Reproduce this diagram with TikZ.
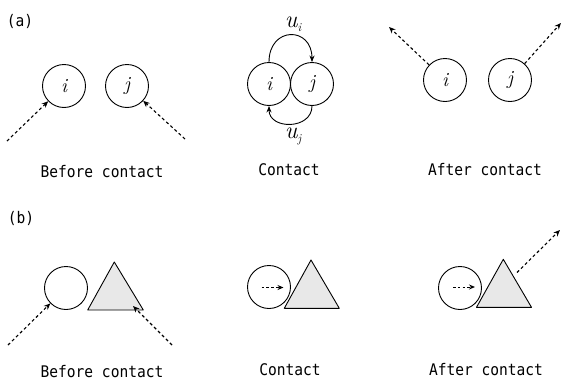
\documentclass[tikz,border=0pt]{standalone}
\usepackage{fontspec}
\newfontfamily\capfont[Scale=1]{DejaVu Sans Mono}
\usetikzlibrary{arrows.meta}
\tikzset{
  ball/.style={circle, draw, line width=0.9pt, minimum size=43pt, inner sep=0pt, font=\fontsize{20}{20}\selectfont\itshape},
  vel/.style={dashed, dash pattern=on 3pt off 2.6pt, line width=1.1pt, -{Stealth[length=6.5pt,width=5.5pt]}},
  inner/.style={dashed, dash pattern=on 2.6pt off 2.2pt, line width=1pt, -{Stealth[length=6pt,width=5pt]}},
  rot/.style={line width=0.9pt, -{Stealth[length=6.5pt,width=5pt]}},
  captext/.style={font=\capfont\fontsize{16}{16}\selectfont, xscale=0.91, inner sep=0pt},
  tri/.style={draw, line width=0.9pt, fill=gray!18, line join=round},
  ulab/.style={font=\fontsize{24}{24}\selectfont\itshape, inner sep=0pt}
}
\newcommand{\usub}[1]{u\hbox{\fontsize{12}{12}\selectfont\raisebox{-4pt}{#1}}}
\begin{document}
\begin{tikzpicture}[x=1pt, y=-1pt]
\useasboundingbox (0,0) rectangle (566,386);
% ---------------- (a)
\node[captext] (la) at (20,21) {(a)};
% before
\node[ball] (bi) at (64,86) {i};
\node[ball] (bj) at (127,86) {j};
\coordinate (bis) at (7,141);
\coordinate (bjs) at (185,139);
\draw[vel] (bis) -- (bi);
\draw[vel] (bjs) -- (bj);
\node[captext] (t1) at (102,172) {Before contact};
% contact
\node[ball] (ci) at (269,84) {i};
\node[ball] (cj) at (312,84) {j};
\draw[rot] (ci.north) .. controls +(0,-36) and +(0,-36) .. (cj.north);
\draw[rot] (cj.south) .. controls +(0,24) and +(0,24) .. (ci.south);
\node[ulab] (ui) at (293,24) {\usub{i}};
\node[ulab] (uj) at (293,136) {\usub{j}};
\node[captext] (t2) at (289,170) {Contact};
% after
\node[ball] (ai) at (445,80) {i};
\node[ball] (aj) at (510,80) {j};
\coordinate (aie) at (389,27);
\coordinate (aje) at (561,23);
\draw[vel] (ai) -- (aie);
\draw[vel] (aj) -- (aje);
\node[captext] (t3) at (485,170) {After contact};
% ---------------- (b)
\node[captext] (lb) at (21,218) {(b)};
% before
\node[ball] (b2c) at (66,288) {};
\coordinate (ta1) at (114.3,262);
\coordinate (tb1) at (87.7,310);
\coordinate (tc1) at (143.3,310);
\draw[tri] (ta1) -- (tb1) -- (tc1) -- cycle;
\coordinate (b2s) at (8,345);
\coordinate (b2t) at (172,345);
\coordinate (b2tt) at (133,306);
\draw[vel] (b2s) -- (b2c);
\draw[vel] (b2t) -- (b2tt);
\node[captext] (t4) at (102,372) {Before contact};
% contact
\node[ball] (c2c) at (269,287) {};
\coordinate (ta2) at (311,260);
\coordinate (tb2) at (284.3,308.3);
\coordinate (tc2) at (339.3,308.3);
\draw[tri] (ta2) -- (tb2) -- (tc2) -- cycle;
\coordinate (c2a) at (261.5,287.5);
\coordinate (c2b) at (283.5,287.5);
\draw[inner] (c2a) -- (c2b);
\node[captext] (t5) at (290,370) {Contact};
% after
\node[ball] (a2c) at (460,288) {};
\coordinate (ta3) at (503.3,259.3);
\coordinate (tb3) at (476.5,307.3);
\coordinate (tc3) at (531.5,307.3);
\draw[tri] (ta3) -- (tb3) -- (tc3) -- cycle;
\coordinate (a2a) at (453,287);
\coordinate (a2b) at (475,287);
\draw[inner] (a2a) -- (a2b);
\coordinate (a2s) at (517,272.5);
\coordinate (a2e) at (560,230);
\draw[vel] (a2s) -- (a2e);
\node[captext] (t6) at (486,370) {After contact};
\end{tikzpicture}
\end{document}
